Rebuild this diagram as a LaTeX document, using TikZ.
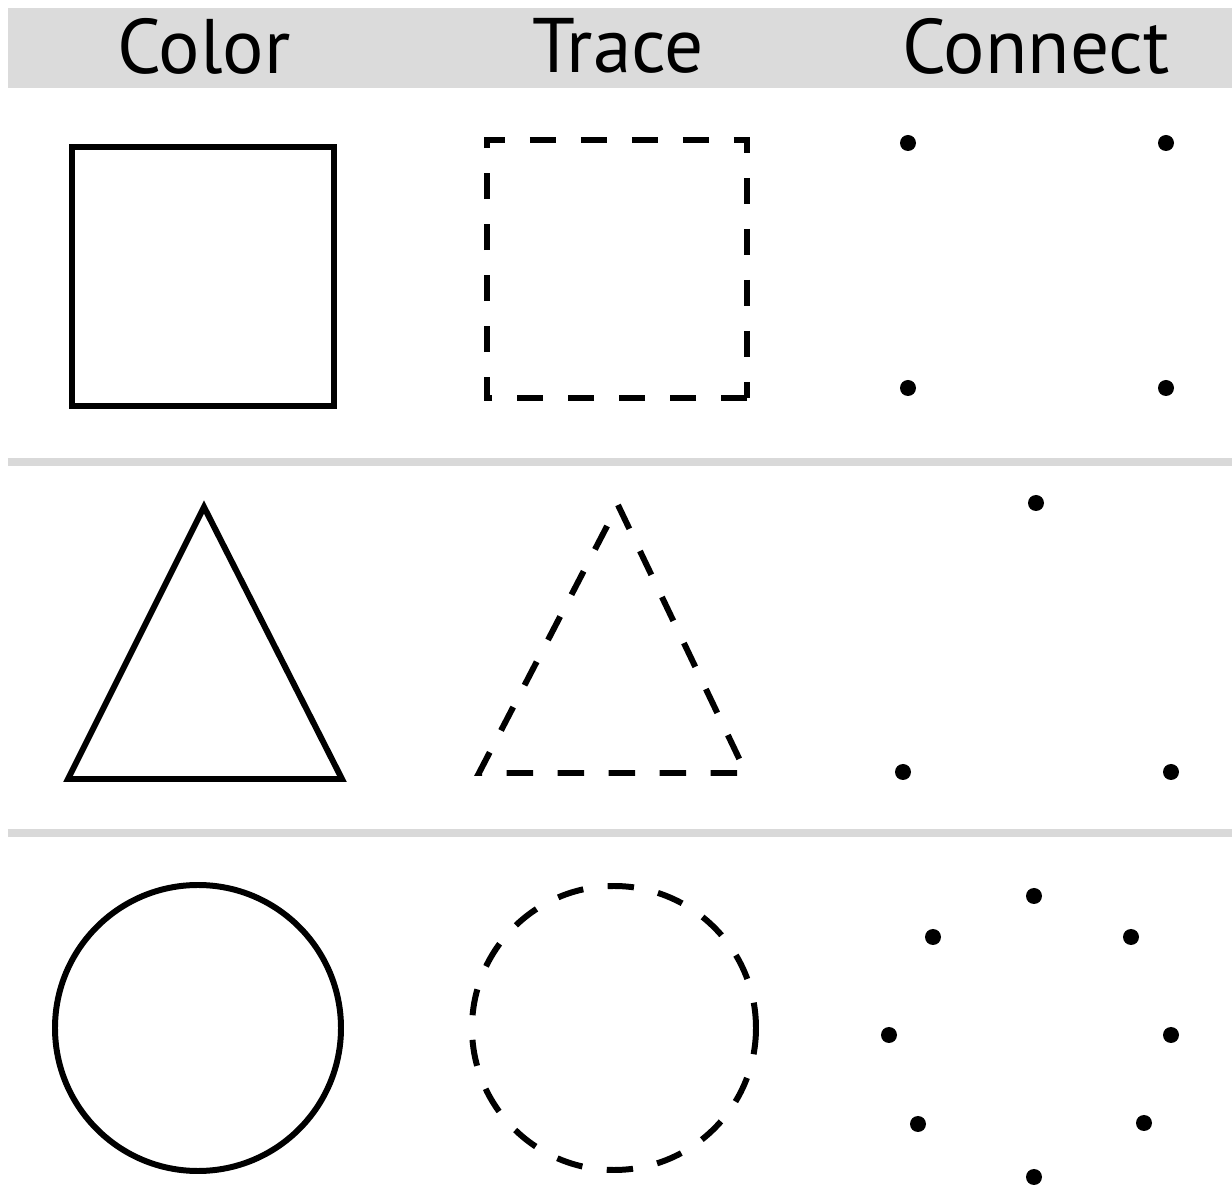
\documentclass[tikz,border=0pt]{standalone}
\usepackage{fontspec}
\setmainfont{PT Sans}
\usepackage{tikz}

\begin{document}
\begin{tikzpicture}[x=0.01cm,y=-0.01cm,
    outline/.style={line width=1.7pt,line join=miter},
    traced/.style={outline,dash pattern=on 7.5pt off 7pt},
    title/.style={font=\fontsize{22}{26}\selectfont},
    rule/.style={line width=2.5pt,color=gray!30}]
  \useasboundingbox (0,0) rectangle (1232,1191);
  % header
  \fill[gray!28] (8,8) rectangle (1232,88);
  \node[title] (color) at (204,46) {Color};
  \node[title] (trace) at (618,46) {Trace};
  \node[title] (connect) at (1036,46) {Connect};
  \draw[rule] (8,462) -- (1232,462);
  \draw[rule] (8,833) -- (1232,833);
  % squares
  \draw[outline] (72,147) rectangle (334,406);
  \draw[traced] (747,398) -- (487,398) -- (487,140) -- (747,140) -- cycle;
  \foreach \p in {(908,143),(1166,143),(908,388),(1166,388)}
    \fill \p circle (8);
  % triangles
  \draw[outline] (204,507) -- (342,779) -- (68,779) -- cycle;
  \draw[traced] (618,505) -- (746,773) -- (479,773) -- cycle;
  \foreach \p in {(1036,503),(903,772),(1171,772)}
    \fill \p circle (8);
  % circles
  \draw[outline] (198,1028) circle (143);
  \draw[traced] (614,1028) circle (142);
  \foreach \p in {(1034,896),(933,937),(1131,937),(889,1035),(1171,1035),(918,1124),(1144,1123),(1034,1177)}
    \fill \p circle (8);
\end{tikzpicture}
\end{document}
